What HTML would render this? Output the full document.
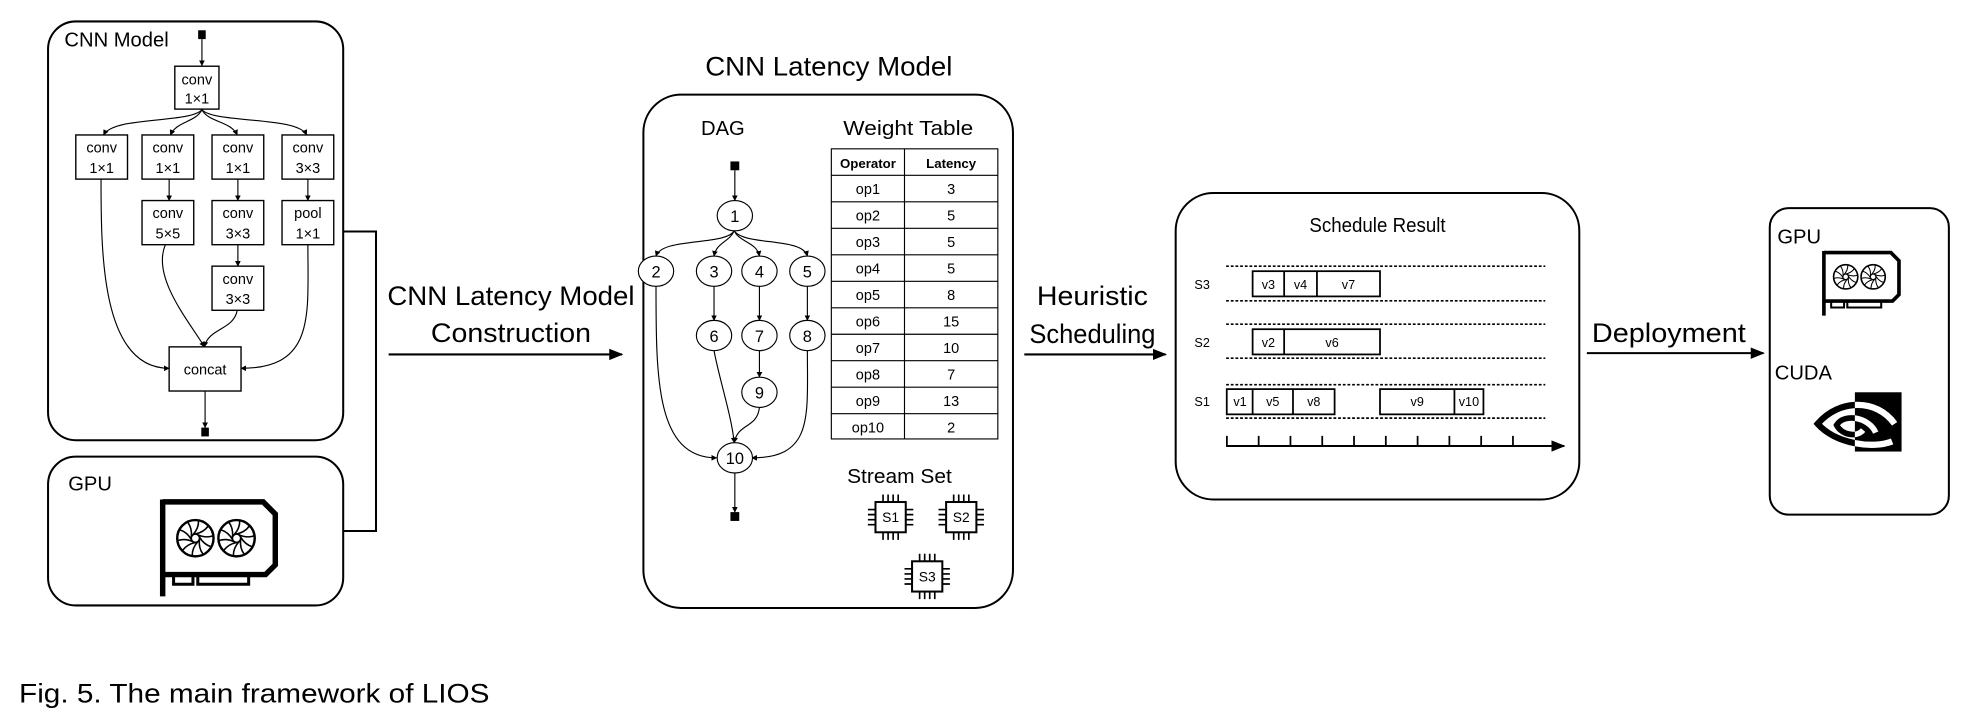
<!DOCTYPE html>
<html><head><meta charset="utf-8">
<style>
html,body{margin:0;padding:0;background:#fff;}
svg{display:block;}
text{font-family:"Liberation Sans",sans-serif;fill:#000;}
</style></head>
<body>
<svg width="1978" height="724" viewBox="0 0 1568 574" xmlns="http://www.w3.org/2000/svg">
<defs>
<marker id="a" viewBox="0 0 10 10" refX="9" refY="5" markerWidth="5" markerHeight="5" orient="auto"><path d="M0,0 L10,5 L0,10 z" fill="#000"/></marker>
<marker id="b" viewBox="0 0 10 10" refX="9" refY="5" markerWidth="7" markerHeight="7" orient="auto"><path d="M0,1 L10,5 L0,9 z" fill="#000"/></marker>
<g id="blade"><path d="M0,-3.5 Q7,-5 10.5,-10" fill="none" stroke="#000" stroke-width="1.3"/></g>
<g id="fan">
<circle r="15" fill="none" stroke="#000" stroke-width="2"/>
<circle r="3.5" fill="none" stroke="#000" stroke-width="1.5"/>
<use href="#blade"/><use href="#blade" transform="rotate(36)"/><use href="#blade" transform="rotate(72)"/><use href="#blade" transform="rotate(108)"/>
<use href="#blade" transform="rotate(144)"/><use href="#blade" transform="rotate(180)"/><use href="#blade" transform="rotate(216)"/><use href="#blade" transform="rotate(252)"/><use href="#blade" transform="rotate(288)"/><use href="#blade" transform="rotate(324)"/>
</g>
<g id="gpu">
<path d="M3,2 H86 L96,12 V54 L88,62 H3" fill="none" stroke="#000" stroke-width="4.5" stroke-linejoin="miter"/>
<line x1="3" y1="0" x2="3" y2="80" stroke="#000" stroke-width="4.5"/>
<path d="M12,62 V70 H28 V62 M32,62 V70 H74 V62" fill="none" stroke="#000" stroke-width="2.5"/>
<use href="#fan" x="30" y="32"/><use href="#fan" x="64" y="32"/>
</g>
<g id="chip">
<rect x="-12" y="-12" width="24" height="24" fill="#fff" stroke="#000" stroke-width="1.6"/>
<path d="M-6,-12v-6M-2,-12v-6M2,-12v-6M6,-12v-6 M-6,12v6M-2,12v6M2,12v6M6,12v6 M-12,-6h-6M-12,-2h-6M-12,2h-6M-12,6h-6 M12,-6h6M12,-2h6M12,2h6M12,6h6" stroke="#000" stroke-width="1.3"/>
</g>
</defs>

<!-- CNN Model box -->
<rect x="38" y="17" width="234" height="332" rx="22" fill="none" stroke="#000" stroke-width="1.6"/>
<text x="51" y="37" font-size="16">CNN Model</text>
<rect x="157" y="24" width="6" height="7" fill="#000"/>
<line x1="160" y1="31" x2="160" y2="52" stroke="#000" stroke-width="0.9" marker-end="url(#a)"/>
<g fill="#fff" stroke="#000" stroke-width="1.1">
<rect x="138.5" y="52.5" width="35" height="34"/>
<rect x="60" y="107" width="41" height="35"/>
<rect x="112.5" y="107" width="41" height="35"/>
<rect x="168" y="107" width="41" height="35"/>
<rect x="223.5" y="107" width="41" height="35"/>
<rect x="112.5" y="159" width="41" height="35"/>
<rect x="168" y="159" width="41" height="35"/>
<rect x="223.5" y="159" width="41" height="35"/>
<rect x="168" y="211" width="41" height="35"/>
<rect x="134" y="275" width="57" height="35"/>
</g>
<g font-size="11.5" text-anchor="middle">
<text x="156" y="67">conv</text><text x="156" y="82">1×1</text>
<text x="80.5" y="121">conv</text><text x="80.5" y="137">1×1</text>
<text x="133" y="121">conv</text><text x="133" y="137">1×1</text>
<text x="188.5" y="121">conv</text><text x="188.5" y="137">1×1</text>
<text x="244" y="121">conv</text><text x="244" y="137">3×3</text>
<text x="133" y="173">conv</text><text x="133" y="189">5×5</text>
<text x="188.5" y="173">conv</text><text x="188.5" y="189">3×3</text>
<text x="244" y="173">pool</text><text x="244" y="189">1×1</text>
<text x="188.5" y="225">conv</text><text x="188.5" y="241">3×3</text>
<text x="162.5" y="297">concat</text>
</g>
<g fill="none" stroke="#000" stroke-width="0.9" marker-end="url(#a)">
<path d="M160,87 C150,98 90,92 82,107"/>
<path d="M160,87 C155,97 140,96 135,107"/>
<path d="M160,87 C165,97 183,96 188,107"/>
<path d="M160,87 C170,98 236,92 243,107"/>
<line x1="134" y1="142" x2="134" y2="159"/>
<line x1="188.5" y1="142" x2="188.5" y2="159"/>
<line x1="244" y1="142" x2="244" y2="159"/>
<line x1="188.5" y1="194" x2="188.5" y2="211"/>
<path d="M80,142 C80,200 80,292 134,292"/>
<path d="M131,194 C120,220 150,255 162,275"/>
<path d="M188,246 C185,262 165,260 162,275"/>
<path d="M244,194 C244,250 250,292 191,292"/>
<line x1="162.5" y1="310" x2="162.5" y2="339"/>
</g>
<rect x="159.5" y="339" width="6" height="7" fill="#000"/>

<!-- connector -->
<path d="M272,183.5 H298 V421 H272" fill="none" stroke="#000" stroke-width="1.6"/>

<!-- GPU box -->
<rect x="38" y="362" width="234" height="118" rx="22" fill="none" stroke="#000" stroke-width="1.6"/>
<text x="54" y="389" font-size="16">GPU</text>
<use href="#gpu" transform="translate(126,396) scale(0.96)"/>

<!-- arrow 1 -->
<line x1="308" y1="281" x2="493" y2="281" stroke="#000" stroke-width="1.6" marker-end="url(#b)"/>
<text x="405" y="242" font-size="21" text-anchor="middle" textLength="196" lengthAdjust="spacingAndGlyphs">CNN Latency Model</text>
<text x="405" y="271" font-size="21" text-anchor="middle" textLength="127" lengthAdjust="spacingAndGlyphs">Construction</text>

<!-- CNN latency model -->
<text x="657" y="60" font-size="21" text-anchor="middle" textLength="196" lengthAdjust="spacingAndGlyphs">CNN Latency Model</text>
<rect x="510" y="75" width="293" height="407" rx="30" fill="none" stroke="#000" stroke-width="1.6"/>
<text x="573" y="107" font-size="16" text-anchor="middle">DAG</text>
<text x="720" y="107" font-size="16" text-anchor="middle" textLength="103" lengthAdjust="spacingAndGlyphs">Weight Table</text>

<g stroke="#000" stroke-width="0.9" fill="none">
<rect x="659" y="118" width="132" height="230"/>
<line x1="717" y1="118" x2="717" y2="348"/>
<line x1="659" y1="139" x2="791" y2="139"/><line x1="659" y1="160" x2="791" y2="160"/>
<line x1="659" y1="181" x2="791" y2="181"/><line x1="659" y1="202" x2="791" y2="202"/>
<line x1="659" y1="223" x2="791" y2="223"/><line x1="659" y1="244" x2="791" y2="244"/>
<line x1="659" y1="265" x2="791" y2="265"/><line x1="659" y1="286" x2="791" y2="286"/>
<line x1="659" y1="307" x2="791" y2="307"/><line x1="659" y1="328" x2="791" y2="328"/>
</g>
<g font-size="11.5" text-anchor="middle">
<text x="688" y="133" font-weight="bold" font-size="10.5">Operator</text><text x="754" y="133" font-weight="bold" font-size="10.5">Latency</text>
<text x="688" y="154">op1</text><text x="754" y="154">3</text>
<text x="688" y="175">op2</text><text x="754" y="175">5</text>
<text x="688" y="196">op3</text><text x="754" y="196">5</text>
<text x="688" y="217">op4</text><text x="754" y="217">5</text>
<text x="688" y="238">op5</text><text x="754" y="238">8</text>
<text x="688" y="259">op6</text><text x="754" y="259">15</text>
<text x="688" y="280">op7</text><text x="754" y="280">10</text>
<text x="688" y="301">op8</text><text x="754" y="301">7</text>
<text x="688" y="322">op9</text><text x="754" y="322">13</text>
<text x="688" y="343">op10</text><text x="754" y="343">2</text>
</g>

<!-- DAG -->
<rect x="579" y="128" width="7" height="7" fill="#000"/>
<g fill="none" stroke="#000" stroke-width="0.9" marker-end="url(#a)">
<line x1="582.5" y1="135" x2="582.5" y2="159"/>
<path d="M582,183 C575,195 525,188 520,203"/>
<path d="M582,183 C578,192 568,192 566,203"/>
<path d="M582,183 C586,192 600,192 602,203"/>
<path d="M582,183 C590,195 636,188 640,203"/>
<line x1="566" y1="227" x2="566" y2="254"/>
<line x1="602" y1="227" x2="602" y2="254"/>
<line x1="640" y1="227" x2="640" y2="254"/>
<line x1="602" y1="278" x2="602" y2="299"/>
<path d="M520,227 C520,300 520,363 568,363"/>
<path d="M566,278 C570,300 580,330 582,351"/>
<path d="M602,323 C600,340 585,335 582,351"/>
<path d="M640,278 C640,330 645,363 596,363"/>
<line x1="582.5" y1="375" x2="582.5" y2="406"/>
</g>
<rect x="579" y="406" width="7" height="7" fill="#000"/>
<g fill="#fff" stroke="#000" stroke-width="0.9">
<ellipse cx="582.5" cy="171" rx="14" ry="12"/>
<ellipse cx="520" cy="215" rx="14" ry="12"/><ellipse cx="566" cy="215" rx="14" ry="12"/>
<ellipse cx="602" cy="215" rx="14" ry="12"/><ellipse cx="640" cy="215" rx="14" ry="12"/>
<ellipse cx="566" cy="266" rx="14" ry="12"/><ellipse cx="602" cy="266" rx="14" ry="12"/>
<ellipse cx="640" cy="266" rx="14" ry="12"/><ellipse cx="602" cy="311" rx="14" ry="12"/>
<ellipse cx="582.5" cy="363" rx="14" ry="12"/>
</g>
<g font-size="13" text-anchor="middle">
<text x="582.5" y="176">1</text><text x="520" y="220">2</text><text x="566" y="220">3</text>
<text x="602" y="220">4</text><text x="640" y="220">5</text><text x="566" y="271">6</text>
<text x="602" y="271">7</text><text x="640" y="271">8</text><text x="602" y="316">9</text>
<text x="582.5" y="368">10</text>
</g>

<text x="713" y="383" font-size="16" text-anchor="middle" textLength="83" lengthAdjust="spacingAndGlyphs">Stream Set</text>
<use href="#chip" x="706" y="410"/><use href="#chip" x="762" y="410"/><use href="#chip" x="735" y="457"/>
<g font-size="11" text-anchor="middle">
<text x="706" y="414">S1</text><text x="762" y="414">S2</text><text x="735" y="461">S3</text>
</g>

<!-- arrow 2 -->
<line x1="812" y1="281" x2="924" y2="281" stroke="#000" stroke-width="1.6" marker-end="url(#b)"/>
<text x="866" y="242" font-size="21" text-anchor="middle" textLength="88" lengthAdjust="spacingAndGlyphs">Heuristic</text>
<text x="866" y="272" font-size="21" text-anchor="middle" textLength="100" lengthAdjust="spacingAndGlyphs">Scheduling</text>

<!-- Schedule box -->
<rect x="932" y="153" width="320" height="243" rx="30" fill="none" stroke="#000" stroke-width="1.6"/>
<text x="1092" y="184" font-size="16" text-anchor="middle" textLength="108" lengthAdjust="spacingAndGlyphs">Schedule Result</text>
<g stroke="#000" stroke-width="1.3" stroke-dasharray="2.2,1.5">
<line x1="972" y1="211" x2="1225" y2="211"/><line x1="972" y1="238.5" x2="1225" y2="238.5"/>
<line x1="972" y1="257" x2="1225" y2="257"/><line x1="972" y1="284" x2="1225" y2="284"/>
<line x1="972" y1="305" x2="1225" y2="305"/><line x1="972" y1="331.5" x2="1225" y2="331.5"/>
</g>
<g fill="#fff" stroke="#000" stroke-width="1.4">
<rect x="993" y="215" width="101" height="20"/>
<rect x="993" y="261" width="101" height="20"/>
<rect x="972.5" y="308.5" width="85.5" height="20"/>
<rect x="1094" y="308.5" width="82" height="20"/>
</g>
<g stroke="#000" stroke-width="1.4">
<line x1="1018" y1="215" x2="1018" y2="235"/><line x1="1044" y1="215" x2="1044" y2="235"/>
<line x1="1018" y1="261" x2="1018" y2="281"/>
<line x1="993" y1="308.5" x2="993" y2="328.5"/><line x1="1025" y1="308.5" x2="1025" y2="328.5"/>
<line x1="1153" y1="308.5" x2="1153" y2="328.5"/>
</g>
<g font-size="10" text-anchor="middle">
<text x="953" y="229">S3</text><text x="953" y="275">S2</text><text x="953" y="322">S1</text>
<text x="1005.5" y="229">v3</text><text x="1031" y="229">v4</text><text x="1069" y="229">v7</text>
<text x="1005.5" y="275">v2</text><text x="1056" y="275">v6</text>
<text x="983" y="322">v1</text><text x="1009" y="322">v5</text><text x="1041.5" y="322">v8</text>
<text x="1123.5" y="322">v9</text><text x="1164.5" y="322">v10</text>
</g>
<line x1="972" y1="353.6" x2="1240" y2="353.6" stroke="#000" stroke-width="1.6" marker-end="url(#b)"/>
<path d="M972.6,353.6v-8 M997.8,353.6v-8 M1023,353.6v-8 M1048.2,353.6v-8 M1073.4,353.6v-8 M1098.6,353.6v-8 M1123.8,353.6v-8 M1149,353.6v-8 M1174.2,353.6v-8 M1199.4,353.6v-8" stroke="#000" stroke-width="1.4"/>

<!-- arrow 3 -->
<line x1="1258" y1="280" x2="1398" y2="280" stroke="#000" stroke-width="1.6" marker-end="url(#b)"/>
<text x="1323" y="271" font-size="21" text-anchor="middle" textLength="122" lengthAdjust="spacingAndGlyphs">Deployment</text>

<!-- right box -->
<rect x="1403" y="165" width="142" height="243" rx="15" fill="none" stroke="#000" stroke-width="1.6"/>
<text x="1409" y="193" font-size="16">GPU</text>
<use href="#gpu" transform="translate(1444,199) scale(0.64)"/>
<text x="1407" y="301" font-size="16">CUDA</text>
<!-- nvidia-like logo -->
<defs>
<clipPath id="L"><rect x="1430" y="300" width="40.5" height="70"/></clipPath>
<clipPath id="R"><rect x="1470.5" y="300" width="40" height="70"/></clipPath>
<g id="eye">
<path d="M1502,336 C1488,316 1458,316 1441,336 C1455,352 1485,356 1500,350" fill="none" stroke-width="5"/>
<path d="M1487,343 C1482,331 1462,327 1456,337 C1460,345 1472,347 1477,341" fill="none" stroke-width="4.5"/>
</g>
</defs>
<rect x="1470.5" y="311" width="37" height="47" fill="#000"/>
<g clip-path="url(#L)" stroke="#000"><use href="#eye"/></g>
<g clip-path="url(#R)" stroke="#fff"><use href="#eye"/></g>

<!-- caption -->
<text x="15" y="557" font-size="21" textLength="373" lengthAdjust="spacingAndGlyphs">Fig. 5. The main framework of LIOS</text>
</svg>
</body></html>
